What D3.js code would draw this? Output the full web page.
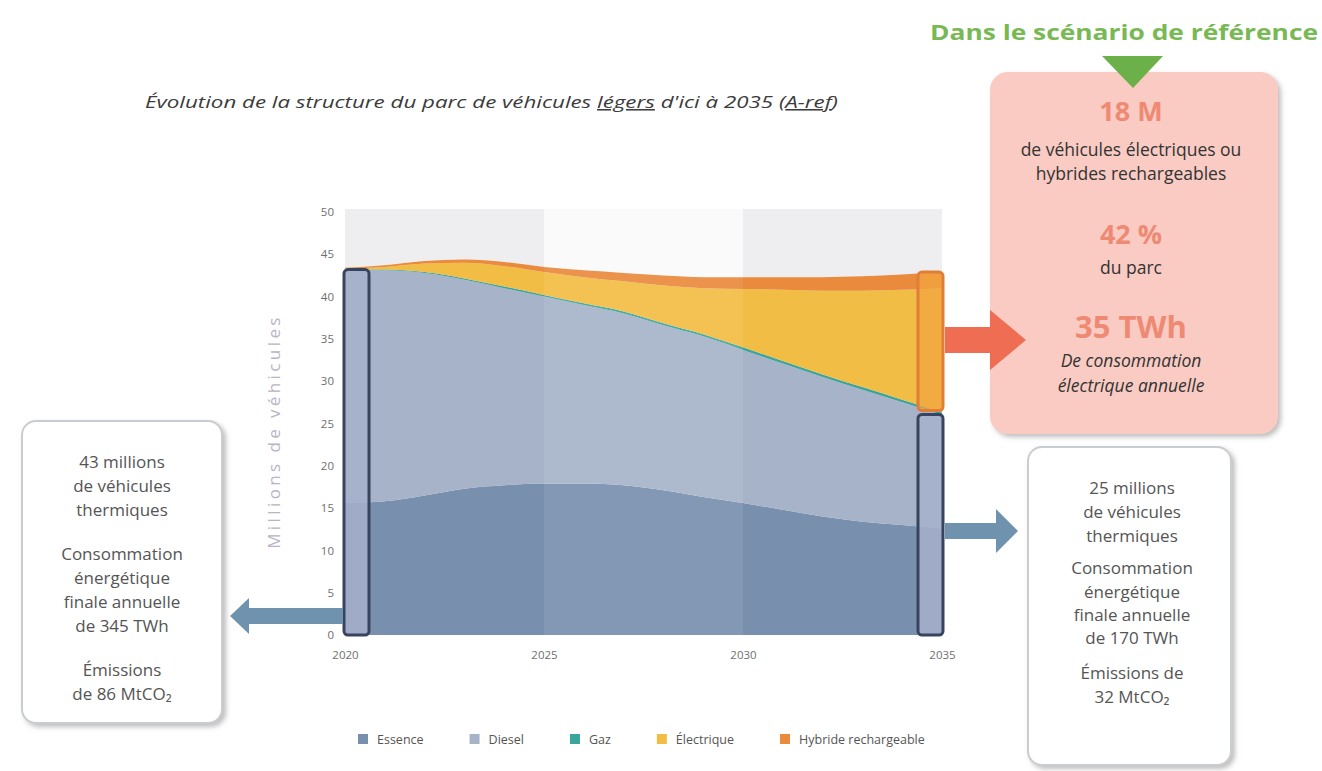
<!DOCTYPE html>
<html><head><meta charset="utf-8">
<script src="https://cdn.jsdelivr.net/npm/d3@7"></script>
<style>
html,body{margin:0;padding:0;background:#fff;}
svg{display:block;font-family:"Open Sans",Lato,sans-serif;}
</style></head>
<body><svg id="c" width="1322" height="771"></svg>
<script>
// ---------- DATA ----------
const years = [2020,2021,2022,2023,2024,2025,2026,2027,2028,2029,2030,2031,2032,2033,2034,2035];
const essence    = [15.6,15.8,16.5,17.3,17.7,17.9,17.9,17.7,17.1,16.3,15.6,14.8,14.0,13.4,13.0,12.6];
const diesel     = [27.5,27.3,26.3,24.7,23.3,22.1,21.1,20.3,19.5,19.0,18.1,17.3,16.5,15.6,14.5,13.4];
const gaz        = [0.1,0.1,0.1,0.15,0.2,0.2,0.2,0.25,0.25,0.25,0.3,0.3,0.3,0.3,0.3,0.3];
const electrique = [0.1,0.3,1.0,1.85,2.4,2.7,3.1,3.55,4.45,5.45,6.9,8.4,9.9,11.4,13.0,14.7];
const hybride    = [0.1,0.2,0.3,0.4,0.5,0.6,0.8,1.0,1.2,1.3,1.4,1.5,1.6,1.7,1.8,1.9];
const seriesNames = ["Essence","Diesel","Gaz","Électrique","Hybride rechargeable"];
const yTicks = [0,5,10,15,20,25,30,35,40,45,50];
const xTicks = [2020,2025,2030,2035];
const bands = [[2020,2025],[2025,2030],[2030,2035]];
const headline = "Dans le scénario de référence";
const pinkLines = [
  {t:"18 M", k:"big"},{t:"de véhicules électriques ou",k:"n"},{t:"hybrides rechargeables",k:"n"},
  {t:"42 %",k:"big"},{t:"du parc",k:"n"},
  {t:"35 TWh",k:"big2"},{t:"De consommation",k:"i"},{t:"électrique annuelle",k:"i"}];
const leftLines = ["43 millions","de véhicules","thermiques","Consommation","énergétique","finale annuelle","de 345 TWh","Émissions","de 86 MtCO₂"];
const rightLines = ["25 millions","de véhicules","thermiques","Consommation","énergétique","finale annuelle","de 170 TWh","Émissions de","32 MtCO₂"];

// ---------- SETUP ----------
const svg = d3.select("#c");
const defs = svg.append("defs");
const sh = defs.append("filter").attr("id","shadow").attr("x","-10%").attr("y","-10%").attr("width","130%").attr("height","130%");
sh.append("feDropShadow").attr("dx",3).attr("dy",3).attr("stdDeviation",2.5).attr("flood-color","#888").attr("flood-opacity",0.55);
const blur = defs.append("filter").attr("id","soft");
blur.append("feGaussianBlur").attr("stdDeviation",0.6);

const colors = {"Essence":"#7890ae","Diesel":"#a7b3c9","Gaz":"#3aa59c","Électrique":"#f2bd44","Hybride rechargeable":"#ea8a3c"};
const x = d3.scaleLinear().domain([2020,2035]).range([345,942]);
const y = d3.scaleLinear().domain([0,50]).range([635,212]);

// background bands
svg.append("g").selectAll("rect").data(bands).join("rect")
  .attr("x",d=>x(d[0])).attr("width",d=>x(d[1])-x(d[0]))
  .attr("y",y(50)-3).attr("height",y(0)-y(50)+3)
  .attr("fill",(d,i)=>i===1?"#fafafb":"#eeeef0");

// stacked areas
const table = years.map((yr,i)=>({year:yr,"Essence":essence[i],"Diesel":diesel[i],"Gaz":gaz[i],"Électrique":electrique[i],"Hybride rechargeable":hybride[i]}));
const stack = d3.stack().keys(seriesNames)(table);
const area = d3.area().x(d=>x(d.data.year)).y0(d=>y(d[0])).y1(d=>y(d[1])).curve(d3.curveMonotoneX);
svg.append("g").attr("filter","url(#soft)").selectAll("path").data(stack).join("path")
  .attr("d",area).attr("fill",d=>colors[d.key]);
svg.append("rect").attr("x",x(2025)).attr("width",x(2030)-x(2025)).attr("y",y(50)).attr("height",y(0)-y(50))
  .attr("fill","#fff").attr("opacity",0.08);

// axes labels
const gy = svg.append("g").attr("transform",`translate(${x(2020)-11},0)`)
  .call(d3.axisLeft(y).tickValues(yTicks).tickSize(0).tickPadding(0));
gy.select(".domain").remove();
gy.selectAll("text").attr("font-size",11.5).attr("fill","#6f6f6f").attr("font-family","Open Sans");
const gx = svg.append("g").attr("transform",`translate(0,${y(0)+10})`)
  .call(d3.axisBottom(x).tickValues(xTicks).tickFormat(d3.format("d")).tickSize(0).tickPadding(6));
gx.select(".domain").remove();
gx.selectAll("text").attr("font-size",11.5).attr("fill","#6f6f6f").attr("font-family","Open Sans");

svg.append("text").attr("transform",`translate(280,${(y(0)+y(50))/2+8}) rotate(-90)`)
  .attr("text-anchor","middle").attr("font-size",17).attr("letter-spacing",3.4)
  .attr("fill","#bbb3c6").text("Millions de véhicules");

// highlight bars
const therm0 = essence[0]+diesel[0]+gaz[0];
const n = years.length-1;
const thermN = essence[n]+diesel[n]+gaz[n];
const totN = thermN+electrique[n]+hybride[n];
const bw = 25;
svg.append("rect").attr("x",x(2020)-1).attr("width",bw).attr("y",y(therm0)).attr("height",y(0)-y(therm0))
  .attr("rx",4).attr("fill","#a6b0cb").attr("fill-opacity",0.85).attr("stroke","#38445e").attr("stroke-width",3);
svg.append("rect").attr("x",x(2035)-bw+1).attr("width",bw).attr("y",y(thermN)+2).attr("height",y(0)-y(thermN)-2)
  .attr("rx",4).attr("fill","#a6b0cb").attr("fill-opacity",0.85).attr("stroke","#38445e").attr("stroke-width",3);
svg.append("rect").attr("x",x(2035)-bw+1).attr("width",bw).attr("y",y(totN)).attr("height",y(thermN)-y(totN)-2)
  .attr("rx",4).attr("fill","#f1a640").attr("fill-opacity",0.75).attr("stroke","#e07d36").attr("stroke-width",3);

// title
svg.append("text").attr("x",145).attr("y",108).attr("font-size",15.5).attr("font-style","italic")
  .attr("fill","#3c3c3c").attr("textLength",693).attr("lengthAdjust","spacingAndGlyphs")
  .call(t=>{
    t.append("tspan").text("Évolution de la structure du parc de véhicules ");
    t.append("tspan").attr("text-decoration","underline").text("légers");
    t.append("tspan").text(" d'ici à 2035 (");
    t.append("tspan").attr("text-decoration","underline").text("A-ref");
    t.append("tspan").text(")");
  });

// headline green
svg.append("text").attr("x",1124).attr("y",40).attr("text-anchor","middle").attr("font-size",21)
  .attr("font-weight","bold").attr("fill","#79b955").attr("textLength",388).attr("lengthAdjust","spacingAndGlyphs").text(headline);

// pink box
svg.append("rect").attr("x",990).attr("y",72).attr("width",288).attr("height",362).attr("rx",18)
  .attr("fill","#f9cbc3").attr("filter","url(#shadow)");
svg.append("path").attr("d","M1102,56 L1163,56 L1133,88 Z").attr("fill","#6cb049");
const pinkY = [121,156,180,244,274,338,367,392];
svg.append("g").selectAll("text").data(pinkLines).join("text")
  .attr("x",1131).attr("y",(d,i)=>pinkY[i]).attr("text-anchor","middle")
  .attr("font-size",d=>d.k==="big"?27:d.k==="big2"?31:17.5)
  .attr("font-weight",d=>d.k.startsWith("big")?"bold":"normal")
  .attr("font-style",d=>d.k==="i"?"italic":"normal")
  .attr("fill",d=>d.k.startsWith("big")?"#ee8a74":"#333")
  .text(d=>d.t);

// arrows (on top of boxes)
function hArrow(x0,x1,cy,sh,hh,hl,fill){
  const dir = x1>x0?1:-1;
  const xb = x1-dir*hl;
  const p = `M${x0},${cy-sh/2} L${xb},${cy-sh/2} L${xb},${cy-hh/2} L${x1},${cy} L${xb},${cy+hh/2} L${xb},${cy+sh/2} L${x0},${cy+sh/2} Z`;
  svg.append("path").attr("d",p).attr("fill",fill);
}

// side boxes
function sideBox(bx,by,bwid,bhei,lines,cx,ys){
  svg.append("rect").attr("x",bx).attr("y",by).attr("width",bwid).attr("height",bhei).attr("rx",14)
    .attr("fill","#fff").attr("stroke","#c9cdd1").attr("stroke-width",2).attr("filter","url(#shadow)");
  svg.append("g").selectAll("text").data(lines).join("text")
    .attr("x",cx).attr("y",(d,i)=>ys[i]).attr("text-anchor","middle").attr("font-size",17)
    .attr("fill","#555").text(d=>d);
}
sideBox(22,421,200,302,leftLines,122,[468,492,516,560,584,608,632,676,700]);
sideBox(1028,447,203,318,rightLines,1132,[494,518,542,574,598,621,644,679,703]);

hArrow(343,230,616,16,36,19,"#6f93af");
hArrow(945,1018,531,16,44,22,"#6f93af");
hArrow(945,1026,340,26,60,36,"#ee6d53");

// legend
const lg = svg.append("g").attr("transform","translate(358,744)");
let lx = 0;
seriesNames.forEach(s=>{
  const g = lg.append("g").attr("transform",`translate(${lx},0)`);
  g.append("rect").attr("x",0).attr("y",-10).attr("width",10).attr("height",10).attr("fill",colors[s]);
  const t = g.append("text").attr("x",19).attr("y",0).attr("font-size",12.5).attr("fill","#555").text(s);
  lx += 19 + t.node().getComputedTextLength() + 46;
});
</script></body></html>
